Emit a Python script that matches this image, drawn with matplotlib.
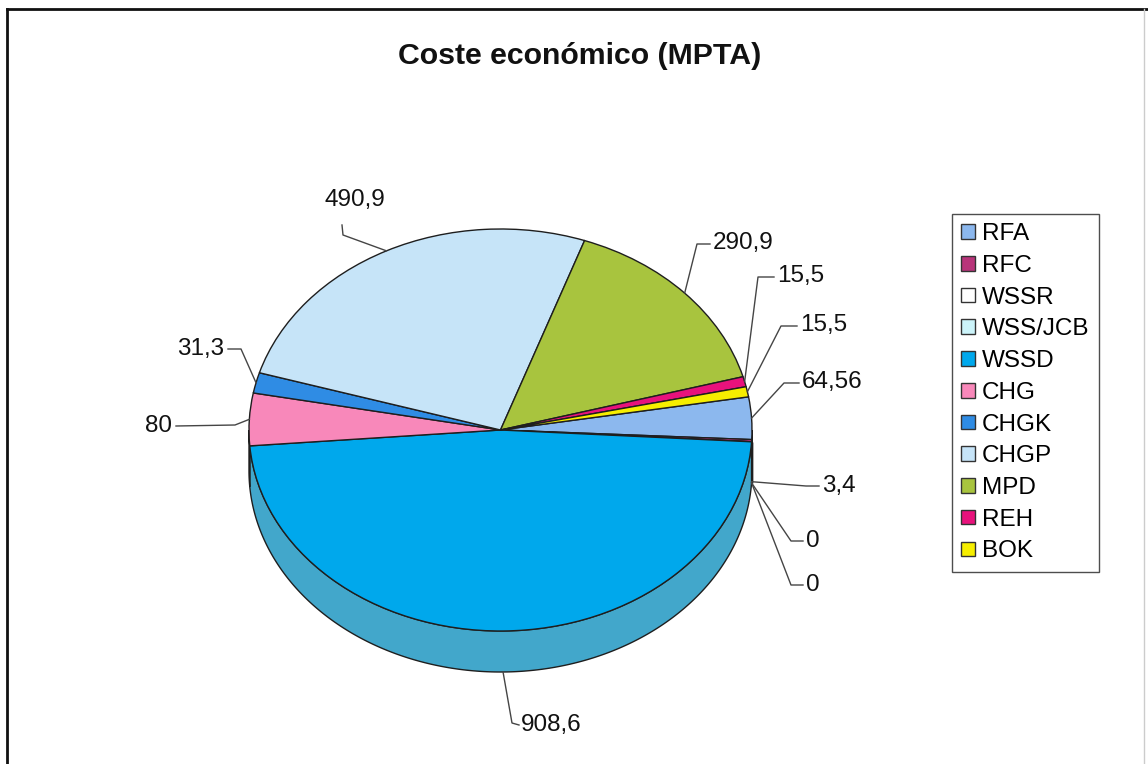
import numpy as np
import matplotlib.pyplot as plt
from matplotlib.patches import Polygon, Patch
from matplotlib.lines import Line2D
from matplotlib.colors import to_rgb

plt.rcParams['font.family'] = ['Liberation Sans', 'DejaVu Sans']

# datos del gráfico
categorias = ['RFA', 'RFC', 'WSSR', 'WSS/JCB', 'WSSD', 'CHG', 'CHGK', 'CHGP', 'MPD', 'REH', 'BOK']
valores = [64.56, 3.4, 0, 0, 908.6, 80, 31.3, 490.9, 290.9, 15.5, 15.5]
colores = ['#8cb8ee', '#b8347a', '#ffffff', '#ccf4fa', '#00a8ec', '#f888ba',
           '#2f8ce4', '#c6e4f8', '#a8c43e', '#e8127c', '#f6ee00']

# geometría en píxeles de la figura (tarta en perspectiva)
W, H = 1148, 764
cx, cy = 500.5, 430.0
rx, ry = 251.5, 201.0
grosor = 41.0 / ry

# posiciones de las etiquetas: texto (x, y, ha), codo y final de la línea guía
etiquetas = [
    (802, 382, 'left', (784, 383), (799, 383)),
    (822, 486, 'left', (806, 486), (819, 486)),
    (806, 541, 'left', (791, 541), (803, 541)),
    (806, 585, 'left', (791, 585), (803, 585)),
    (521, 725, 'left', (512, 723), (519, 725)),
    (172, 426, 'right', (235, 425), (176, 426)),
    (224, 349, 'right', (241, 349), (228, 349)),
    (355, 200, 'center', (343, 235), (342, 225)),
    (713, 243, 'left', (697, 244), (710, 244)),
    (777, 276, 'left', (758, 277), (774, 277)),
    (800, 325, 'left', (781, 326), (797, 326)),
]


def px(x, y):
    return (x - cx) / rx, (cy - y) / ry


def lateral(c):
    r, g, b = to_rgb(c)
    return (0.6 * r + 0.26, 0.6 * g + 0.26, 0.6 * b + 0.24)


def texto_valor(v):
    if float(v).is_integer():
        return str(int(v))
    return ('%g' % v).replace('.', ',')


fig = plt.figure(figsize=(W / 100, H / 100), dpi=100)
ax = fig.add_axes([0, 0, 1, 1])

cuñas, _ = ax.pie(valores, colors=colores, startangle=9.5, counterclock=False,
                  radius=1, center=(0, 0),
                  wedgeprops=dict(edgecolor='#1e1e1e', linewidth=1.0, zorder=3))

# cara lateral visible de cada porción
for w, c in zip(cuñas, colores):
    t = np.linspace(w.theta1, w.theta2, 300)
    t = t[np.sin(np.radians(t)) < 0]
    if len(t) < 2:
        continue
    tr = np.radians(t)
    arriba = np.column_stack([np.cos(tr), np.sin(tr)])
    abajo = np.column_stack([np.cos(tr), np.sin(tr) - grosor])[::-1]
    ax.add_patch(Polygon(np.vstack([arriba, abajo]), closed=True,
                         facecolor=lateral(c), edgecolor='#1e1e1e',
                         linewidth=1.0, zorder=2))

ax.set_aspect('auto')
ax.set_xlim(-cx / rx, (W - cx) / rx)
ax.set_ylim(-(H - cy) / ry, cy / ry)
ax.axis('off')

# etiquetas de valores con líneas guía
for w, v, (tx, ty, ha, codo, fin) in zip(cuñas, valores, etiquetas):
    medio = np.radians((w.theta1 + w.theta2) / 2)
    x0, y0 = np.cos(medio), np.sin(medio)
    if y0 < 0:
        y0 -= grosor
    xs = [x0, px(*codo)[0], px(*fin)[0]]
    ys = [y0, px(*codo)[1], px(*fin)[1]]
    ax.plot(xs, ys, color='#454545', linewidth=1.0, zorder=4)
    ax.text(*px(tx, ty), texto_valor(v), ha=ha, va='center',
            fontsize=17.5, color='#111111', zorder=5)

fig.text(579.5 / W, 1 - 56 / H, 'Coste económico (MPTA)', ha='center', va='center',
         fontsize=21.8, fontweight='bold', color='#111111')

manejadores = [Patch(facecolor=c, edgecolor='#333333', linewidth=1.0) for c in colores]
ley = fig.legend(manejadores, categorias, loc='upper left',
                 bbox_to_anchor=(952 / W, 1 - 214 / H), frameon=True, fancybox=False,
                 edgecolor='#222222', fontsize=17.5, handlelength=0.55, handleheight=0.55,
                 handletextpad=0.3, labelspacing=0.4, borderpad=0.38, borderaxespad=0)
ley.get_frame().set_linewidth(1.0)

# marco exterior del gráfico
fig.add_artist(Line2D([7 / W, 7 / W], [0, 1 - 9 / H], color='#111111', linewidth=2))
fig.add_artist(Line2D([7 / W, 1], [1 - 9 / H, 1 - 9 / H], color='#111111', linewidth=2))
fig.add_artist(Line2D([1144 / W, 1144 / W], [0, 1 - 9 / H], color='#cccccc', linewidth=1))

fig.savefig('out.png', dpi=100)
